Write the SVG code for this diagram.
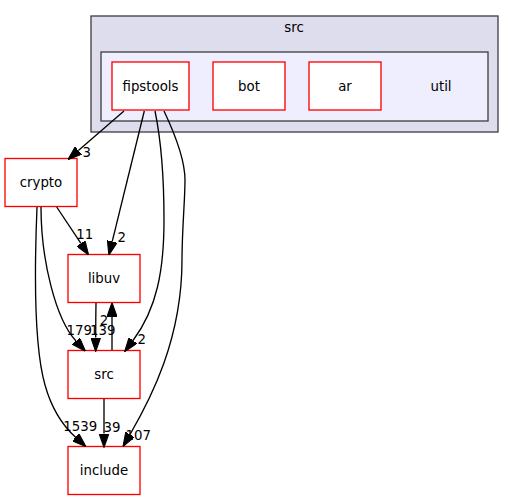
<svg xmlns="http://www.w3.org/2000/svg" width="515" height="500" viewBox="0 0 515 500">
<style>
text{font-family:"DejaVu Sans",Verdana,sans-serif;font-size:13.33px;fill:#000;text-anchor:middle}
.node{fill:#fff;stroke:#ff0000;stroke-width:1.33}
.edge{fill:none;stroke:#000;stroke-width:1.33}
</style>
<defs>
<marker id="ah" markerUnits="userSpaceOnUse" markerWidth="14" markerHeight="10" viewBox="0 0 13.3 9.4" refX="0" refY="4.7" orient="auto">
<path d="M0,0 L13.3,4.7 L0,9.4 z" fill="#000" stroke="#000" stroke-width="1"/>
</marker>
</defs>
<rect fill="#fff" width="515" height="500"/>
<g id="cluster_src">
<rect x="91" y="16" width="407" height="116" fill="#ddddee" stroke="#404040" stroke-width="1.33"/>
<text x="294" y="32">src</text>
</g>
<g id="cluster_util">
<rect x="101" y="52" width="387" height="69" fill="#eeeeff" stroke="#404040" stroke-width="1.33"/>
<text x="441" y="90.7">util</text>
</g>
<g id="node_fipstools">
<rect class="node" x="112" y="62" width="77" height="48"/>
<text x="150.5" y="90.7">fipstools</text>
</g>
<g id="node_bot">
<rect class="node" x="213" y="62" width="72" height="48"/>
<text x="249" y="90.7">bot</text>
</g>
<g id="node_ar">
<rect class="node" x="309" y="62" width="72" height="48"/>
<text x="345" y="90.7">ar</text>
</g>
<g id="node_crypto">
<rect class="node" x="5" y="158.5" width="72" height="48"/>
<text x="41" y="187">crypto</text>
</g>
<g id="node_libuv">
<rect class="node" x="68" y="254.5" width="72" height="48"/>
<text x="104" y="283">libuv</text>
</g>
<g id="node_src">
<rect class="node" x="68" y="350.5" width="72" height="48"/>
<text x="104" y="379">src</text>
</g>
<g id="node_include">
<rect class="node" x="68" y="446.5" width="72" height="48"/>
<text x="104" y="475">include</text>
</g>
<g id="edges">
<path class="edge" marker-end="url(#ah)" d="M124,111 L78.4,150.6"/>
<text x="86.7" y="157">3</text>
<path class="edge" marker-end="url(#ah)" d="M144.3,111 L112.2,241.6"/>
<text x="121.7" y="242">2</text>
<path class="edge" marker-end="url(#ah)" d="M155,111 C161,140 164,180 164,220 C164,270 157,308.5 133,340.5"/>
<text x="141.7" y="344">2</text>
<path class="edge" marker-end="url(#ah)" d="M164,111 C173,130 185,160 185,180 C185,200 182,230 182,260 C182,340 150,400 130,434.5"/>
<text x="138.3" y="440">107</text>
<path class="edge" marker-end="url(#ah)" d="M56.7,207 L80.9,243.4"/>
<text x="84.7" y="238.5">11</text>
<path class="edge" marker-end="url(#ah)" d="M41,207 C41,260 55.6,319 76,341"/>
<text x="79.3" y="334.5">179</text>
<path class="edge" marker-end="url(#ah)" d="M37,207 C34,280 35,350 45,385 C52,410 62,425 75.6,437.3"/>
<text x="80.3" y="430.5">1539</text>
<path class="edge" marker-end="url(#ah)" d="M96,303 C95.8,315 95.7,325 95.7,337.5"/>
<text x="102.7" y="334.5">139</text>
<path class="edge" marker-end="url(#ah)" d="M112,350 L112,316.5"/>
<text x="104" y="325">2</text>
<path class="edge" marker-end="url(#ah)" d="M104,399 L104,433.5"/>
<text x="112" y="431.5">39</text>
</g>
</svg>
